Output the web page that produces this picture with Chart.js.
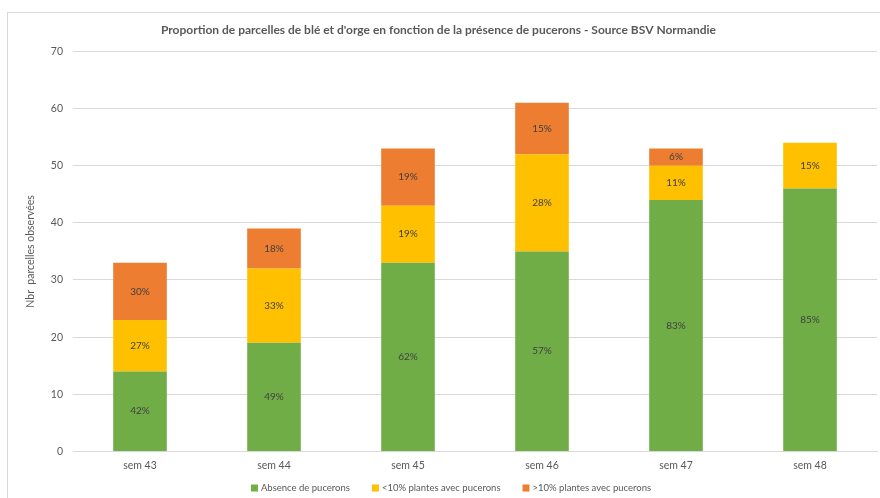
<!DOCTYPE html>
<html>
<head>
<meta charset="utf-8">
<script src="https://cdn.jsdelivr.net/npm/chart.js@4"></script>
<style>
  html, body { margin: 0; padding: 0; background: #fff; }
  #wrap { position: relative; width: 880px; height: 498px; overflow: hidden; }
  #frame { position: absolute; left: 7px; top: 12px; width: 900px; height: 520px; border: 1px solid #d9d9d9; }
  canvas { position: absolute; left: 0; top: 0; }
</style>
</head>
<body>
<div id="wrap">
  <div id="frame"></div>
  <canvas id="chart" width="880" height="498"></canvas>
</div>
<script>
// weeks and number of plots per class
const weeks = ['sem 43', 'sem 44', 'sem 45', 'sem 46', 'sem 47', 'sem 48'];
const absence = [14, 19, 33, 35, 44, 46];
const under10 = [9, 13, 10, 17, 6, 8];
const over10 = [10, 7, 10, 9, 3, 0];
const absenceLabels = ['42%', '49%', '62%', '57%', '83%', '85%'];
const under10Labels = ['27%', '33%', '19%', '28%', '11%', '15%'];
const over10Labels = ['30%', '18%', '19%', '15%', '6%', ''];
const yTicks = [0, 10, 20, 30, 40, 50, 60, 70];

const FONT = 'Lato, "Open Sans", sans-serif';

// writes the percentage in the middle of each segment
const segmentLabels = {
  id: 'segmentLabels',
  afterDatasetsDraw(chart) {
    const ctx = chart.ctx;
    ctx.save();
    ctx.font = '10px ' + FONT;
    ctx.fillStyle = '#404040';
    ctx.textAlign = 'center';
    ctx.textBaseline = 'middle';
    chart.data.datasets.forEach(function(ds, i) {
      const meta = chart.getDatasetMeta(i);
      meta.data.forEach(function(bar, j) {
        const txt = ds.pctLabels[j];
        if (!txt) return;
        const mid = (bar.y + bar.base) / 2;
        ctx.fillText(txt, bar.x, mid);
      });
    });
    ctx.restore();
  }
};

// legend drawn by hand to get the wide gaps between items
const bottomLegend = {
  id: 'bottomLegend',
  afterDraw(chart) {
    const ctx = chart.ctx;
    const box = 7, boxGap = 3, itemGap = 22;
    const y = 488;
    ctx.save();
    ctx.font = '9.5px ' + FONT;
    ctx.textBaseline = 'middle';
    const items = chart.data.datasets.map(ds => ({
      text: ds.label, color: ds.backgroundColor, w: box + boxGap + ctx.measureText(ds.label).width
    }));
    const total = items.reduce((s, it) => s + it.w, 0) + itemGap * (items.length - 1);
    let x = 451 - total / 2;
    items.forEach(function(it) {
      ctx.fillStyle = it.color;
      ctx.fillRect(x, y - box / 2, box, box);
      ctx.fillStyle = '#595959';
      ctx.fillText(it.text, x + box + boxGap, y);
      x += it.w + itemGap;
    });
    ctx.restore();
  }
};

const ctx = document.getElementById('chart').getContext('2d');
new Chart(ctx, {
  type: 'bar',
  data: {
    labels: weeks,
    datasets: [
      { label: 'Absence de pucerons', data: absence, pctLabels: absenceLabels, backgroundColor: '#70ad47' },
      { label: '<10% plantes avec pucerons', data: under10, pctLabels: under10Labels, backgroundColor: '#ffc000' },
      { label: '>10% plantes avec pucerons', data: over10, pctLabels: over10Labels, backgroundColor: '#ed7d31' }
    ]
  },
  options: {
    responsive: false,
    animation: false,
    categoryPercentage: 1,
    barPercentage: 0.4,
    layout: { padding: { left: 0, right: 3, top: 23, bottom: 26 } },
    plugins: {
      title: {
        display: true,
        text: "Proportion de parcelles de blé et d'orge en fonction de la présence de pucerons - Source BSV Normandie",
        color: '#595959',
        font: { family: FONT, size: 12, weight: 'bold' },
        padding: { top: 0, bottom: 14 }
      },
      legend: { display: false },
      tooltip: { enabled: false }
    },
    scales: {
      x: {
        stacked: true,
        grid: { display: false },
        border: { color: '#d9d9d9' },
        ticks: { color: '#595959', font: { family: FONT, size: 10.5 }, padding: 0 }
      },
      y: {
        stacked: true,
        min: 0,
        max: 70,
        afterBuildTicks(scale) {
          scale.ticks = yTicks.map(v => ({ value: v }));
        },
        afterFit(scale) { scale.width = 73; },
        grid: { color: '#d9d9d9', drawTicks: false },
        border: { display: false },
        ticks: { color: '#595959', font: { family: FONT, size: 10.5 }, padding: 10 },
        title: {
          display: true,
          text: 'Nbr  parcelles observées',
          color: '#595959',
          font: { family: FONT, size: 10.5 },
          padding: { top: 24, bottom: 0 }
        }
      }
    }
  },
  plugins: [segmentLabels, bottomLegend]
});
</script>
</body>
</html>
